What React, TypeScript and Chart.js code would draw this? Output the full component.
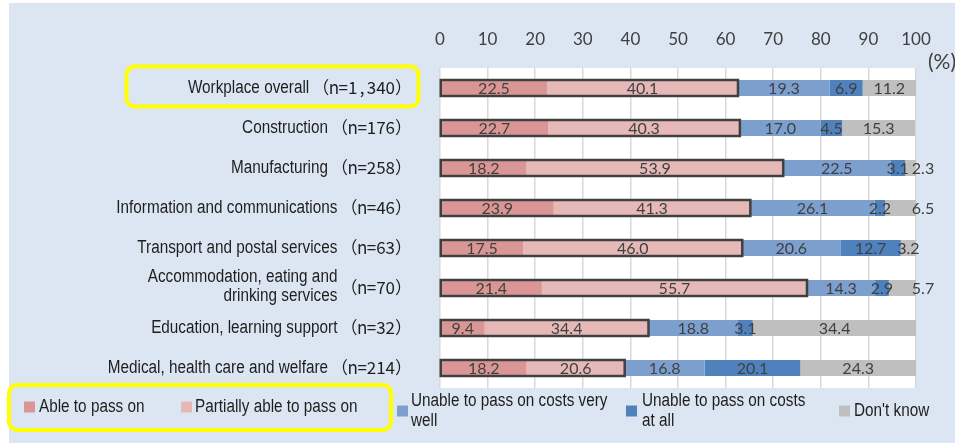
import React, { useEffect, useRef } from 'react';
import { Chart, registerables } from 'chart.js';

Chart.register(...registerables);

// ---------- data ----------
const categories: (string | string[])[] = [
  'Workplace overall',
  'Construction',
  'Manufacturing',
  'Information and communications',
  'Transport and postal services',
  ['Accommodation, eating and', 'drinking services'],
  'Education, learning support',
  'Medical, health care and welfare',
];
const sampleSizes = ['1,340', '176', '258', '46', '63', '70', '32', '214'];

const seriesNames: string[][] = [
  ['Able to pass on'],
  ['Partially able to pass on'],
  ['Unable to pass on costs very', 'well'],
  ['Unable to pass on costs', 'at all'],
  ["Don't know"],
];
const seriesColors = ['#D99694', '#E6B9B8', '#7C9FCE', '#4F81BD', '#BFBFBF'];

const ableToPassOn = [22.5, 22.7, 18.2, 23.9, 17.5, 21.4, 9.4, 18.2];
const partiallyAble = [40.1, 40.3, 53.9, 41.3, 46.0, 55.7, 34.4, 20.6];
const unableVeryWell = [19.3, 17.0, 22.5, 26.1, 20.6, 14.3, 18.8, 16.8];
const unableAtAll = [6.9, 4.5, 3.1, 2.2, 12.7, 2.9, 3.1, 20.1];
const dontKnow = [11.2, 15.3, 2.3, 6.5, 3.2, 5.7, 34.4, 24.3];

const axisMin = 0;
const axisMax = 100;
const axisStep = 10;
const unitLabel = '(%)';

// ---------- helpers ----------
const NAME_FONT = '18px "Liberation Sans", Arial, sans-serif';
const NARROW = 0.85;

function fillNarrow(ctx: CanvasRenderingContext2D, text: string, x: number, y: number, align: CanvasTextAlign) {
  ctx.save();
  ctx.translate(x, y);
  ctx.scale(NARROW, 1);
  ctx.textAlign = align;
  ctx.fillText(text, 0, 0);
  ctx.restore();
}

function drawNPart(ctx: CanvasRenderingContext2D, n: string, rightX: number, y: number): number {
  ctx.save();
  ctx.font = '17px "Noto Sans CJK JP", sans-serif';
  ctx.textBaseline = 'middle';
  const parenW = 17;
  const pitch = 9.4;
  const inner = 'n=' + n;
  const total = parenW * 2 + inner.length * pitch;
  const x0 = rightX - total;
  ctx.textAlign = 'left';
  ctx.fillText('（', x0, y);
  ctx.textAlign = 'center';
  Array.from(inner).forEach((c, i) => {
    ctx.fillText(c, x0 + parenW + (i + 0.5) * pitch, y);
  });
  ctx.textAlign = 'left';
  ctx.fillText('）', x0 + parenW + inner.length * pitch, y);
  ctx.restore();
  return x0;
}

function roundRectPath(ctx: CanvasRenderingContext2D, x: number, y: number, w: number, h: number, r: number) {
  ctx.beginPath();
  ctx.moveTo(x + r, y);
  ctx.lineTo(x + w - r, y);
  ctx.arcTo(x + w, y, x + w, y + r, r);
  ctx.lineTo(x + w, y + h - r);
  ctx.arcTo(x + w, y + h, x + w - r, y + h, r);
  ctx.lineTo(x + r, y + h);
  ctx.arcTo(x, y + h, x, y + h - r, r);
  ctx.lineTo(x, y + r);
  ctx.arcTo(x, y, x + r, y, r);
  ctx.closePath();
}

const decorPlugin = {
  id: 'decor',
  beforeDraw(chart: any) {
    const { ctx, width, height, chartArea: a } = chart;
    ctx.save();
    ctx.fillStyle = '#FFFFFF';
    ctx.fillRect(0, 0, width, height);
    ctx.fillStyle = '#DCE6F2';
    ctx.fillRect(9, 3, width - 9, height - 3);
    ctx.fillStyle = '#FFFFFF';
    ctx.fillRect(a.left, a.top, a.right - a.left, a.bottom - a.top);
    ctx.restore();
  },
  afterDatasetsDraw(chart: any) {
    const { ctx } = chart;
    const m0 = chart.getDatasetMeta(0);
    const m1 = chart.getDatasetMeta(1);
    ctx.save();
    // outline around "able" + "partially able"
    ctx.strokeStyle = '#404040';
    ctx.lineWidth = 2.5;
    m0.data.forEach((e0: any, i: number) => {
      const p0 = e0.getProps(['x', 'y', 'base', 'height'], true);
      const p1 = m1.data[i].getProps(['x', 'y', 'base', 'height'], true);
      const left = Math.min(p0.base, p0.x);
      const right = Math.max(p1.x, p1.base);
      ctx.strokeRect(left, p0.y - p0.height / 2, right - left, p0.height);
    });
    // data labels
    ctx.fillStyle = '#404040';
    ctx.font = '16px Lato, sans-serif';
    ctx.textBaseline = 'middle';
    ctx.textAlign = 'center';
    const nds = chart.data.datasets.length;
    chart.data.datasets.forEach((ds: any, d: number) => {
      const meta = chart.getDatasetMeta(d);
      meta.data.forEach((el: any, i: number) => {
        const p = el.getProps(['x', 'y', 'base'], true);
        const v = ds.data[i] as number;
        let cx = (p.x + p.base) / 2;
        if (d === nds - 1 && v < 7) {
          const prev = chart.data.datasets[d - 1].data[i] as number;
          if (prev < 4) cx = Math.max(p.x, p.base) + 7;
        }
        ctx.fillText(v.toFixed(1), cx, p.y + 1);
      });
    });
    ctx.restore();
  },
  afterDraw(chart: any) {
    const { ctx } = chart;
    const yScale = chart.scales.y;
    ctx.save();
    // category labels
    ctx.fillStyle = '#1E1E1E';
    ctx.textBaseline = 'middle';
    categories.forEach((cat, i) => {
      const y = yScale.getPixelForValue(i);
      const x0 = drawNPart(ctx, sampleSizes[i], 412, y);
      ctx.font = NAME_FONT;
      ctx.fillStyle = '#1E1E1E';
      const nameRight = x0 - 3;
      if (Array.isArray(cat)) {
        const lh = 19;
        cat.forEach((line, k) => {
          fillNarrow(ctx, line, nameRight, y + (k - (cat.length - 1) / 2) * lh - 1, 'right');
        });
      } else {
        fillNarrow(ctx, cat, nameRight, y, 'right');
      }
    });

    // unit label
    ctx.fillStyle = '#404040';
    ctx.font = '21px Lato, sans-serif';
    ctx.textAlign = 'left';
    ctx.textBaseline = 'middle';
    ctx.fillText(unitLabel, 928, 62);

    // legend
    const markerX = [24, 181, 397, 626, 839];
    const itemY = [407, 407, 411, 411, 411];
    const textOff = [15, 14, 14, 16, 15];
    chart.data.datasets.forEach((ds: any, d: number) => {
      const cy = itemY[d];
      ctx.fillStyle = ds.backgroundColor;
      ctx.fillRect(markerX[d], cy - 5.5, 11, 11);
      ctx.fillStyle = '#1E1E1E';
      ctx.font = NAME_FONT;
      ctx.textBaseline = 'middle';
      const lines = seriesNames[d];
      const lh = 20;
      lines.forEach((line, k) => {
        fillNarrow(ctx, line, markerX[d] + textOff[d], cy + (k - (lines.length - 1) / 2) * lh, 'left');
      });
    });

    // yellow highlight boxes
    ctx.strokeStyle = '#FFFF00';
    ctx.lineWidth = 4;
    const y0 = yScale.getPixelForValue(0);
    roundRectPath(ctx, 126.5, y0 - 21.5, 292, 40, 8);
    ctx.stroke();
    roundRectPath(ctx, 9, 385, 382, 45, 8);
    ctx.stroke();
    ctx.restore();
  },
};

export default function App() {
  const ref = useRef<HTMLCanvasElement | null>(null);

  useEffect(() => {
    document.body.style.margin = '0';
    const canvas = ref.current;
    if (!canvas) return;
    const seriesData = [ableToPassOn, partiallyAble, unableVeryWell, unableAtAll, dontKnow];
    const chart = new Chart(canvas, {
      type: 'bar',
      data: {
        labels: categories as any,
        datasets: seriesData.map((arr, d) => ({
          label: seriesNames[d].join(' '),
          data: arr,
          backgroundColor: seriesColors[d],
          borderWidth: 0,
          categoryPercentage: 0.8,
          barPercentage: 0.5,
        })),
      },
      options: {
        indexAxis: 'y',
        responsive: false,
        animation: false,
        devicePixelRatio: 1,
        layout: { padding: { left: 440, right: 39, top: 30, bottom: 55 } },
        plugins: {
          legend: { display: false },
          tooltip: { enabled: false },
          title: { display: false },
        },
        scales: {
          x: {
            position: 'top',
            stacked: true,
            min: axisMin,
            max: axisMax,
            afterFit: (scale: any) => {
              scale.height = 38;
            },
            ticks: {
              stepSize: axisStep,
              color: '#404040',
              font: { family: 'Lato', size: 17 },
              padding: 17.8,
            },
            grid: {
              color: '#D9D9D9',
              lineWidth: 1.5,
              drawTicks: false,
            },
            border: { display: false },
          },
          y: {
            stacked: true,
            display: false,
          },
        },
      },
      plugins: [decorPlugin],
    } as any);
    return () => chart.destroy();
  }, []);

  return <canvas ref={ref} width={955} height={443} style={{ display: 'block' }} />;
}
